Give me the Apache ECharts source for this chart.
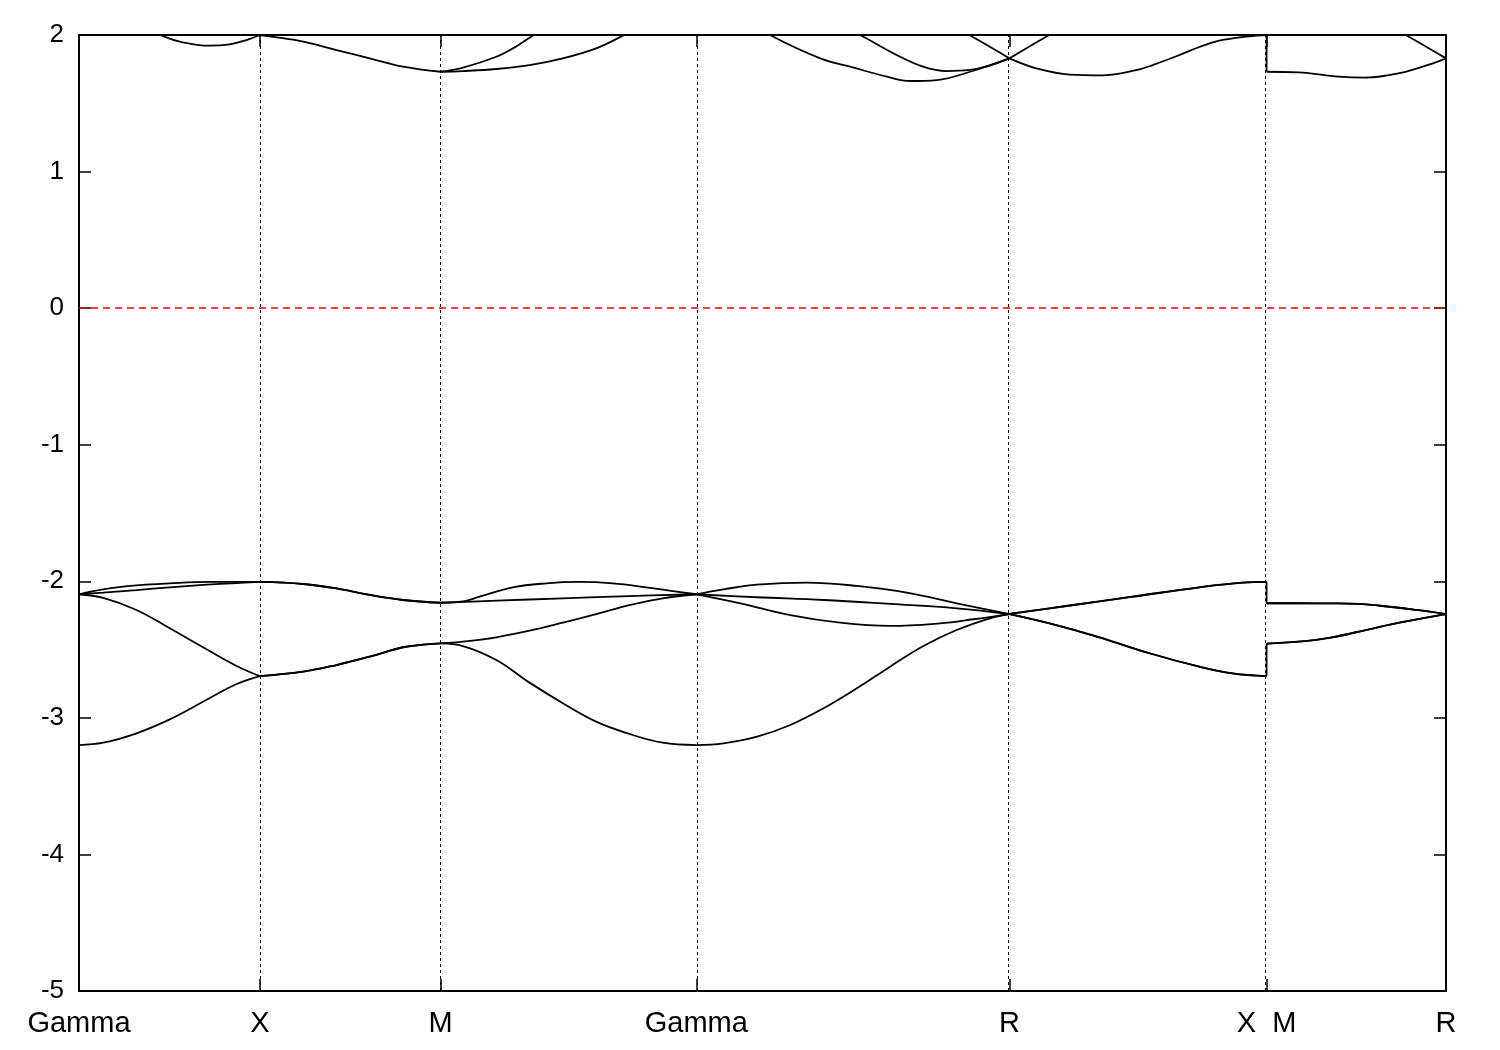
<!DOCTYPE html>
<html>
<head>
<meta charset="utf-8">
<script src="https://cdn.jsdelivr.net/npm/echarts@6/dist/echarts.min.js"></script>
<style>
html,body{margin:0;padding:0;background:#fff;}
#chart{width:1500px;height:1050px;}
</style>
</head>
<body>
<div id="chart"></div>
<script>
// High-symmetry points along the k-path and their labels
const kTicks = [0, 0.5, 1.0, 1.7071, 2.5731, 3.284, 3.7802];
const kLabels = ['Gamma', 'X', 'M', 'Gamma', 'R', 'X  M', 'R'];
const yTicks = [-5, -4, -3, -2, -1, 0, 1, 2];

// Lower bands (segments: G-X, X-M, M-G, G-R, R-X, M-R)
const band1 = [
  [[0,-3.199],[0.067,-3.182],[0.159,-3.113],[0.251,-3.011],[0.343,-2.882],[0.436,-2.752],[0.5,-2.694]],
  [[0.5,-2.694],[0.62,-2.662],[0.712,-2.613],[0.804,-2.552],[0.896,-2.483],[0.96,-2.462],[1.0,-2.454]],
  [[1.0,-2.454],[1.062,-2.474],[1.154,-2.576],[1.246,-2.742],[1.338,-2.893],[1.430,-3.028],[1.522,-3.118],[1.614,-3.182],[1.7071,-3.199]],
  [[1.7071,-3.199],[1.782,-3.187],[1.875,-3.138],[1.967,-3.052],[2.059,-2.930],[2.151,-2.784],[2.243,-2.625],[2.335,-2.474],[2.427,-2.357],[2.519,-2.271],[2.5731,-2.240]],
  [[2.5731,-2.240],[2.684,-2.308],[2.822,-2.410],[2.960,-2.527],[3.098,-2.625],[3.190,-2.674],[3.284,-2.694]],
  [[3.284,-2.456],[3.372,-2.442],[3.465,-2.410],[3.558,-2.357],[3.651,-2.303],[3.7802,-2.240]]
];
const band2 = [
  [[0,-2.095],[0.067,-2.122],[0.159,-2.210],[0.251,-2.344],[0.343,-2.483],[0.436,-2.620],[0.5,-2.694]],
  [[0.5,-2.694],[0.62,-2.662],[0.712,-2.613],[0.804,-2.552],[0.896,-2.483],[0.96,-2.462],[1.0,-2.454]],
  [[1.0,-2.454],[1.062,-2.442],[1.154,-2.410],[1.246,-2.362],[1.338,-2.303],[1.430,-2.240],[1.522,-2.174],[1.614,-2.125],[1.7071,-2.095]],
  [[1.7071,-2.095],[1.829,-2.161],[1.967,-2.247],[2.105,-2.303],[2.243,-2.327],[2.381,-2.308],[2.473,-2.278],[2.5731,-2.240]],
  [[2.5731,-2.240],[2.684,-2.308],[2.822,-2.410],[2.960,-2.527],[3.098,-2.625],[3.190,-2.674],[3.284,-2.694]],
  [[3.284,-2.456],[3.372,-2.442],[3.465,-2.410],[3.558,-2.357],[3.651,-2.303],[3.7802,-2.240]]
];
const band3 = [
  [[0,-2.095],[0.067,-2.083],[0.159,-2.064],[0.251,-2.044],[0.343,-2.027],[0.436,-2.013],[0.5,-2.005]],
  [[0.5,-2.005],[0.62,-2.020],[0.712,-2.052],[0.804,-2.100],[0.896,-2.137],[1.0,-2.157]],
  [[1.0,-2.157],[1.154,-2.142],[1.338,-2.125],[1.522,-2.108],[1.7071,-2.095]],
  [[1.7071,-2.095],[1.875,-2.117],[2.059,-2.137],[2.243,-2.166],[2.427,-2.198],[2.5731,-2.240]],
  [[2.5731,-2.238],[2.730,-2.181],[2.914,-2.113],[3.098,-2.044],[3.218,-2.010],[3.284,-2.005]],
  [[3.284,-2.161],[3.372,-2.161],[3.465,-2.162],[3.535,-2.166],[3.605,-2.181],[3.698,-2.210],[3.7802,-2.240]]
];
const band4 = [
  [[0,-2.095],[0.067,-2.059],[0.159,-2.030],[0.251,-2.015],[0.361,-2.005],[0.5,-2.005]],
  [[0.5,-2.005],[0.62,-2.020],[0.712,-2.052],[0.804,-2.100],[0.896,-2.137],[1.0,-2.157]],
  [[1.0,-2.157],[1.062,-2.147],[1.108,-2.113],[1.200,-2.044],[1.292,-2.015],[1.384,-2.005],[1.476,-2.015],[1.568,-2.044],[1.633,-2.069],[1.7071,-2.095]],
  [[1.7071,-2.095],[1.782,-2.059],[1.875,-2.025],[2.013,-2.010],[2.151,-2.034],[2.289,-2.083],[2.427,-2.161],[2.5731,-2.240]],
  [[2.5731,-2.238],[2.730,-2.181],[2.914,-2.113],[3.098,-2.044],[3.218,-2.010],[3.284,-2.005]],
  [[3.284,-2.161],[3.372,-2.161],[3.465,-2.162],[3.535,-2.166],[3.605,-2.181],[3.698,-2.210],[3.7802,-2.240]]
];
// Jumps at the X|M discontinuity
const jumps = [
  [[3.284,-2.005],[3.284,-2.161]],
  [[3.284,-2.694],[3.284,-2.456]],
  [[3.284,2.0],[3.284,1.731]]
];

// Upper bands (partly above the plotted window)
const upperGX = [[0,2.3],[0.1,2.16],[0.18,2.05],[0.224,2.0],[0.279,1.951],[0.362,1.922],[0.417,1.932],[0.463,1.963],[0.5,2.0]];
const upperXM = [[0.5,2.0],[0.528,1.99],[0.62,1.951],[0.712,1.890],[0.804,1.829],[0.896,1.768],[1.0,1.731]];
const upperMGa = [[1.0,1.731],[1.062,1.736],[1.154,1.751],[1.246,1.780],[1.338,1.829],[1.430,1.902],[1.499,1.988],[1.6,2.13],[1.7071,2.25]];
const upperMGb = [[1.0,1.731],[1.062,1.761],[1.154,1.841],[1.200,1.902],[1.246,1.980],[1.35,2.15],[1.5,2.35],[1.7071,2.5]];
const upperGRa = [[1.7071,2.3],[1.8,2.18],[1.911,2.0],[2.050,1.829],[2.142,1.761],[2.234,1.695],[2.298,1.663],[2.372,1.670],[2.464,1.731],[2.5731,1.829]];
const upperGRb = [[1.7071,2.45],[1.9,2.3],[2.06,2.13],[2.16,2.0],[2.261,1.854],[2.334,1.768],[2.399,1.736],[2.463,1.744],[2.5731,1.829]];
const upperGRc = [[2.2,2.35],[2.35,2.16],[2.462,2.0],[2.5731,1.829]];
const upperRXa = [[2.5731,1.829],[2.683,2.0],[2.8,2.17],[3.0,2.4],[3.284,2.55]];
const upperRXb = [[2.5731,1.829],[2.647,1.756],[2.739,1.710],[2.831,1.705],[2.923,1.742],[2.969,1.780],[3.04,1.85],[3.098,1.912],[3.153,1.958],[3.236,1.99],[3.284,2.0]];
const upperMRa = [[3.284,1.731],[3.372,1.727],[3.484,1.695],[3.558,1.688],[3.651,1.720],[3.744,1.793],[3.7802,1.829]];
const upperMRb = [[3.284,2.45],[3.45,2.3],[3.58,2.13],[3.669,2.0],[3.7802,1.829]];

const FONT = 'Liberation Sans, Arial, Helvetica, sans-serif';
const series = [];
function addLine(data, smooth) {
  series.push({
    type: 'line', data: data, smooth: smooth ? 0.4 : false,
    showSymbol: false, symbol: 'none',
    clip: true, silent: true, animation: false,
    lineStyle: { color: '#000', width: 1.8 }
  });
}
[band1, band2, band3, band4].forEach(b => b.forEach(seg => addLine(seg, true)));
jumps.forEach(j => addLine(j, false));
[upperGX, upperXM, upperMGa, upperMGb, upperGRa, upperGRb, upperGRc, upperRXa, upperRXb, upperMRa, upperMRb]
  .forEach(s => addLine(s, true));

// Reference lines: vertical high-symmetry lines and Fermi level
series.push({
  type: 'line', data: [], silent: true, animation: false,
  markLine: {
    silent: true, symbol: 'none', animation: false, label: { show: false },
    data: kTicks.slice(1, -1).map(v => ({ xAxis: v, lineStyle: { color: '#000', width: 1, type: [3, 3] } }))
      .concat([{ yAxis: 0, lineStyle: { color: '#ff0000', width: 1.5, type: [7, 5] } }])
  }
});

const tickLabelMap = {};
kTicks.forEach((v, i) => { tickLabelMap[v.toFixed(4)] = kLabels[i]; });

const chart = echarts.init(document.getElementById('chart'), null, { renderer: 'canvas' });
chart.setOption({
  backgroundColor: '#fff',
  animation: false,
  grid: { left: 79, right: 54, top: 35, bottom: 59, containLabel: false },
  xAxis: [
    {
      type: 'value', min: 0, max: kTicks[kTicks.length - 1], position: 'bottom',
      axisLine: { show: true, onZero: false, lineStyle: { color: '#000', width: 2 } },
      axisTick: { show: true, inside: true, length: 12, customValues: kTicks, lineStyle: { color: '#000', width: 1.5 } },
      axisLabel: {
        show: true, customValues: kTicks, margin: 18, color: '#000', fontSize: 29, fontFamily: FONT,
        showMinLabel: true, showMaxLabel: true,
        formatter: v => tickLabelMap[Number(v).toFixed(4)] || ''
      },
      splitLine: { show: false }
    },
    {
      type: 'value', min: 0, max: kTicks[kTicks.length - 1], position: 'top',
      axisLine: { show: true, onZero: false, lineStyle: { color: '#000', width: 2 } },
      axisTick: { show: true, inside: true, length: 12, customValues: kTicks, lineStyle: { color: '#000', width: 1.5 } },
      axisLabel: { show: false },
      splitLine: { show: false }
    }
  ],
  yAxis: [
    {
      type: 'value', min: -5, max: 2, interval: 1, position: 'left',
      axisLine: { show: true, onZero: false, lineStyle: { color: '#000', width: 2 } },
      axisTick: { show: true, inside: true, length: 12, lineStyle: { color: '#000', width: 1.5 } },
      axisLabel: { show: true, margin: 15, color: '#000', fontSize: 26, fontFamily: FONT, formatter: v => String(v) },
      splitLine: { show: false }
    },
    {
      type: 'value', min: -5, max: 2, interval: 1, position: 'right',
      axisLine: { show: true, onZero: false, lineStyle: { color: '#000', width: 2 } },
      axisTick: { show: true, inside: true, length: 12, lineStyle: { color: '#000', width: 1.5 } },
      axisLabel: { show: false },
      splitLine: { show: false }
    }
  ],
  series: series
});
</script>
</body>
</html>
